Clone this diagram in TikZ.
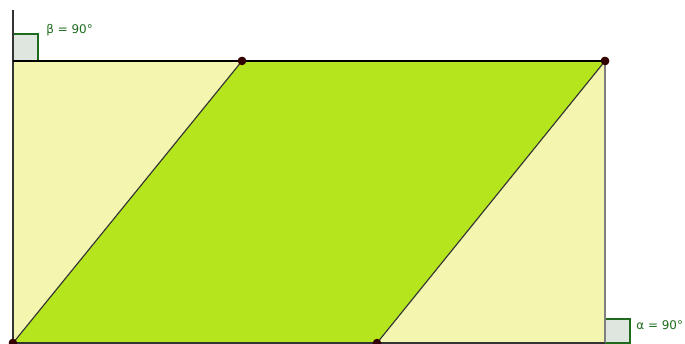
\documentclass[tikz,border=0pt]{standalone}
\usepackage{fontspec}
\setmainfont{DejaVu Sans}
\usetikzlibrary{positioning}
\definecolor{paleyellow}{HTML}{F4F6B0}
\definecolor{limegreen}{HTML}{B5E51D}
\definecolor{anglegreen}{HTML}{1E6B1E}
\definecolor{anglefill}{HTML}{DFE6DF}
\begin{document}
\begin{tikzpicture}[
      x=0.02cm, y=0.02cm,
      vtx/.style={circle, fill=black!80!red, inner sep=0pt, minimum size=1.7mm},
      edge/.style={draw=black!80, line width=0.65pt},
      rightangle/.style={draw=anglegreen, fill=anglefill, line width=0.6pt},
      anglab/.style={anchor=west, inner sep=0pt, text=anglegreen,
                     font=\fontsize{6.8}{8}\selectfont}
    ]
    \clip (0,0) rectangle (685,343);
    % rectangle corners
    \coordinate (bl) at (13,0);
    \coordinate (br) at (605,0);
    \coordinate (tl) at (13,282);
    \coordinate (tr) at (605,282);
    \coordinate (ltop) at (13,333);
    % parallelogram vertices
    \node[vtx] (A) at (13,0) {};
    \node[vtx] (B) at (377,0) {};
    \node[vtx] (C) at (605,282) {};
    \node[vtx] (D) at (242,282) {};
    \fill[paleyellow] (bl) rectangle (tr);
    \fill[limegreen] (A.center) -- (B.center) -- (C.center) -- (D.center) -- cycle;
    % right angle markers
    \draw[rightangle] (tl) rectangle (38,309);
    \draw[rightangle] (br) rectangle (630,24);
    \node[anglab] (beta) at (46,313) {β = 90°};
    \node[anglab] (alpha) at (636,18) {α = 90°};
    % sides
    \draw[edge] (ltop) -- (bl);
    \draw[edge,draw=black] (tl) -- (tr);
    \draw[edge,draw=black!50] (tr) -- (br);
    \draw[edge] (bl) -- (br);
    \draw[edge] (A.center) -- (D.center);
    \draw[edge] (B.center) -- (C.center);
    % points on top
    \node[vtx] at (A) {};
    \node[vtx] at (B) {};
    \node[vtx] at (C) {};
    \node[vtx] at (D) {};
  \end{tikzpicture}
\end{document}
